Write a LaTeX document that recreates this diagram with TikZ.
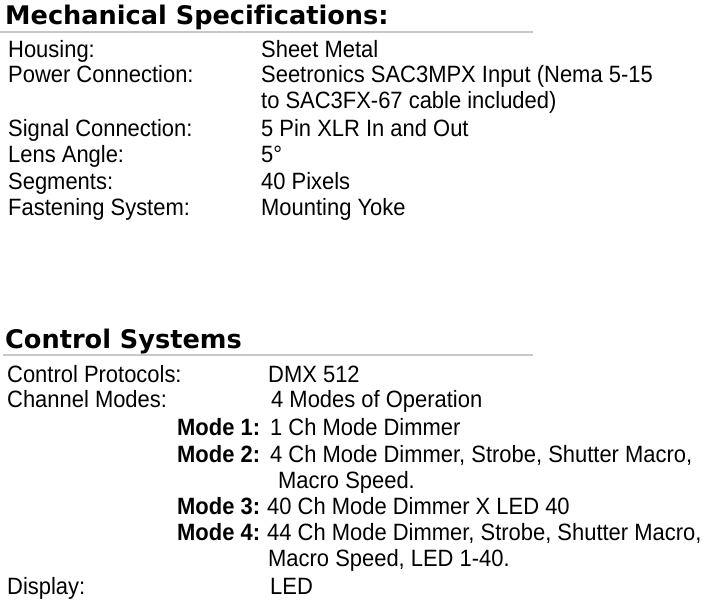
\documentclass[tikz,border=0pt]{standalone}
\usepackage{fontspec}
\setmainfont{Liberation Sans}[FakeStretch=0.93]
\newfontfamily\headfont{DejaVu Sans}[Ligatures=NoCommon]
\usepackage{tikz}

\definecolor{rulegray}{RGB}{200,200,200}
\tikzset{
    heading/.style={anchor=base west, inner sep=0pt,
        font=\headfont\bfseries\fontsize{25.6}{28}\selectfont},
    spec/.style={anchor=base west, inner sep=0pt,
        font=\fontsize{23.6}{26}\selectfont},
    modename/.style={spec, font=\bfseries\fontsize{23.6}{26}\selectfont},
    rulebar/.style={rulegray, line width=2pt}
}

\begin{document}
\begin{tikzpicture}[x=1pt, y=-1pt]
    \useasboundingbox (0,0) rectangle (715,603);
    % mechanical block
    \node[heading] (mech) at (5,24) {Mechanical Specifications:};
    \coordinate (mechruleA) at (0,31.5);
    \coordinate (mechruleB) at (533,31.5);
    \draw[rulebar] (mechruleA) -- (mechruleB);
    \node[spec] (housing) at (8,57) {Housing:};
    \node[spec] (housingval) at (261,57) {Sheet Metal};
    \node[spec] (power) at (8,82) {Power Connection:};
    \node[spec] (powerval) at (261,82) {Seetronics SAC3MPX Input (Nema 5-15};
    \node[spec] (powervalb) at (261,108) {to SAC3FX-67 cable included)};
    \node[spec] (signal) at (8,136) {Signal Connection:};
    \node[spec] (signalval) at (261,136) {5 Pin XLR In and Out};
    \node[spec] (lens) at (8,162.5) {Lens Angle:};
    \node[spec] (lensval) at (261,162.5) {5°};
    \node[spec] (segments) at (8,189) {Segments:};
    \node[spec] (segmentsval) at (261,189) {40 Pixels};
    \node[spec] (fasten) at (8,215) {Fastening System:};
    \node[spec] (fastenval) at (261,215) {Mounting Yoke};
    % control block
    \node[heading] (ctrl) at (5,348) {Control Systems};
    \coordinate (ctrlruleA) at (3,355);
    \coordinate (ctrlruleB) at (533,355);
    \draw[rulebar] (ctrlruleA) -- (ctrlruleB);
    \node[spec] (protocols) at (7,382) {Control Protocols:};
    \node[spec] (protocolsval) at (268,382) {DMX 512};
    \node[spec] (channels) at (7,407) {Channel Modes:};
    \node[spec] (channelsval) at (271,407) {4 Modes of Operation};
    \node[modename] (modeA) at (177,435) {Mode 1:};
    \node[spec] (modeAval) at (270,435) {1 Ch Mode Dimmer};
    \node[modename] (modeB) at (177,462) {Mode 2:};
    \node[spec] (modeBval) at (270,462) {4 Ch Mode Dimmer, Strobe, Shutter Macro,};
    \node[spec] (modeBvalb) at (278,488) {Macro Speed.};
    \node[modename] (modeC) at (177,514) {Mode 3:};
    \node[spec] (modeCval) at (267,514) {40 Ch Mode Dimmer X LED 40};
    \node[modename] (modeD) at (177,540) {Mode 4:};
    \node[spec] (modeDval) at (267,540) {44 Ch Mode Dimmer, Strobe, Shutter Macro,};
    \node[spec] (modeDvalb) at (268,566) {Macro Speed, LED 1-40.};
    \node[spec] (display) at (7,594) {Display:};
    \node[spec] (displayval) at (270,594) {LED};
\end{tikzpicture}
\end{document}
